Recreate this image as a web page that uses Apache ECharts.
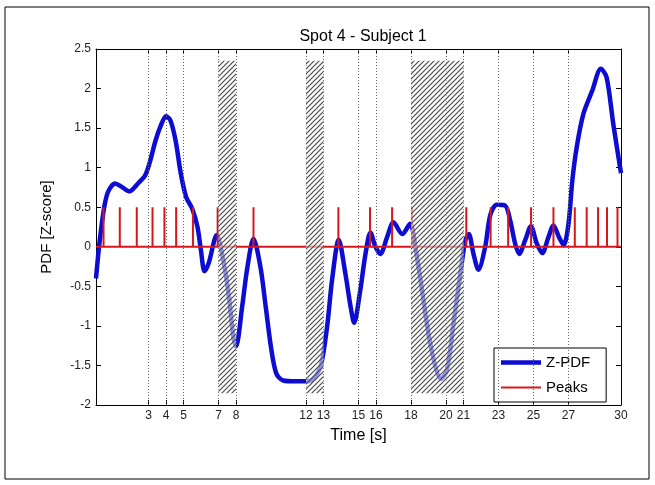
<!DOCTYPE html>
<head>
    <meta charset="utf-8">
    <title>ECharts</title>
    <script type="text/javascript" src="https://cdn.jsdelivr.net/npm/echarts@6/dist/echarts.min.js"></script>
</head>

<body style="margin:0">
<div id="main" style="width:655px;height:485px"></div>

<script type="text/javascript">
// Z-PDF curve (time in s, value in z-score)
var tSec = [0, 0.2, 0.47, 0.7, 1.1, 1.45, 1.9, 2.4, 2.8, 3.05, 3.4, 3.7, 4.0, 4.25, 4.55, 4.85, 5.15, 5.5, 5.8, 6.0,
    6.2, 6.45, 6.9, 7.3, 7.6, 7.85, 8.0, 8.35, 8.65, 9.0, 9.4, 9.7, 10.0, 10.3, 10.7, 11.4, 12.1, 12.45, 12.85, 13.2,
    13.5, 13.87, 14.25, 14.55, 14.75, 15.1, 15.4, 15.68, 15.97, 16.25, 16.63, 17.0, 17.5, 17.95, 18.25, 18.63, 19.0, 19.4, 19.7, 20.05,
    20.43, 20.82, 21.1, 21.3, 21.57, 21.85, 22.24, 22.53, 22.9, 23.38, 23.67, 23.95, 24.18, 24.52, 24.85, 25.19, 25.5, 25.85, 26.14, 26.46,
    26.72, 27.0, 27.22, 27.47, 27.85, 28.35, 28.85, 29.18, 29.56, 30];
var zpdf = [-0.40, 0.05, 0.50, 0.70, 0.80, 0.76, 0.70, 0.80, 0.90, 1.05, 1.34, 1.53, 1.65, 1.60, 1.34, 0.92, 0.63, 0.48, 0.25, -0.05,
    -0.31, -0.20, 0.15, -0.20, -0.64, -1.15, -1.26, -0.76, -0.26, 0.10, -0.26, -0.76, -1.27, -1.60, -1.69, -1.70, -1.70, -1.66, -1.50, -1.02,
    -0.40, 0.09, -0.34, -0.76, -0.96, -0.55, -0.09, 0.18, 0.00, -0.09, 0.12, 0.31, 0.16, 0.29, 0.00, -0.55, -1.10, -1.52, -1.67, -1.56,
    -0.97, -0.34, 0.08, 0.16, -0.09, -0.29, 0.00, 0.40, 0.53, 0.52, 0.33, 0.04, -0.09, 0.08, 0.26, 0.04, -0.08, 0.12, 0.27, 0.12,
    0.02, 0.29, 0.84, 1.26, 1.68, 1.97, 2.25, 2.14, 1.55, 0.93];

// peak times (stems of height 0.5)
var peaks = [0.43, 1.36, 2.33, 3.23, 3.91, 4.58, 5.54, 6.95, 9.0, 13.85, 15.66, 16.92, 18.06, 21.16,
    22.55, 23.55, 24.86, 26.14, 27.36, 28.04, 28.69, 29.2, 29.8];
var peakHeight = 0.5;

// x tick labels / dotted lines
var xTicks = [3, 4, 5, 7, 8, 12, 13, 15, 16, 18, 20, 21, 23, 25, 27, 30];

// hatched intervals [start, end] and their vertical extent
var hatchSpans = [[7, 8], [12, 13], [18, 21]];
var hatchLow = -1.85, hatchHigh = 2.35;

var font = 'Liberation Sans, Arial, sans-serif';
var blue = '#0c0cd2', red = '#d6181d';

// hatch pattern
var pat = document.createElement('canvas');
pat.width = 5; pat.height = 5;
var ctx = pat.getContext('2d');
ctx.fillStyle = 'rgba(255,255,255,0.55)';
ctx.fillRect(0, 0, 5, 5);
ctx.strokeStyle = '#4a4a4a';
ctx.lineWidth = 1.2;
ctx.beginPath();
ctx.moveTo(0, 5); ctx.lineTo(5, 0);
ctx.moveTo(-1, 1); ctx.lineTo(1, -1);
ctx.moveTo(4, 6); ctx.lineTo(6, 4);
ctx.stroke();

var curveData = tSec.map(function (t, i) { return [t, zpdf[i]]; });

var peakData = [[0, 0]];
peaks.forEach(function (p) {
    peakData.push([p, 0], [p, peakHeight], [p, 0]);
});
peakData.push([30, 0]);

var dotLines = xTicks.filter(function (v) { return v < 30; }).map(function (v) { return {xAxis: v}; });
var areas = hatchSpans.map(function (s) {
    return [{coord: [s[0], hatchLow]}, {coord: [s[1], hatchHigh]}];
});

var axisLine = {show: true, onZero: false, lineStyle: {color: '#000', width: 1}};
var tick = {show: true, inside: true, length: 5, lineStyle: {color: '#000'}};
var label = {color: '#222', fontSize: 12, fontFamily: font};

var myChart = echarts.init(document.getElementById('main'));
var option = {
    animation: false,
    backgroundColor: '#fff',
    title: {
        text: 'Spot 4 - Subject 1',
        left: 358,
        textAlign: 'center',
        top: 24,
        textStyle: {fontSize: 16, fontWeight: 'normal', color: '#000', fontFamily: font}
    },
    graphic: [{
        type: 'rect',
        shape: {x: 5, y: 7, width: 644, height: 472},
        style: {fill: 'none', stroke: '#000', lineWidth: 1},
        silent: true
    }],
    grid: {left: 96, right: 34, top: 49, bottom: 80},
    legend: {
        data: [
            {name: 'Z-PDF', icon: 'path://M0,0H40V4.5H0Z'},
            {name: 'Peaks', icon: 'path://M0,0H40V2H0Z'}
        ],
        orient: 'vertical',
        left: 494,
        top: 348,
        padding: [7, 16, 7, 7],
        itemGap: 10,
        itemWidth: 40,
        itemHeight: 14,
        borderColor: '#000',
        borderWidth: 1,
        backgroundColor: '#fff',
        textStyle: {fontSize: 15, color: '#000', fontFamily: font}
    },
    xAxis: [{
        type: 'value', min: 0, max: 30, interval: 1,
        name: 'Time [s]', nameLocation: 'middle', nameGap: 23,
        nameTextStyle: {fontSize: 16, color: '#000', fontFamily: font},
        axisLine: axisLine,
        axisTick: Object.assign({customValues: xTicks}, tick),
        axisLabel: Object.assign({customValues: xTicks, margin: 5}, label),
        splitLine: {show: false}
    }, {
        type: 'value', min: 0, max: 30, interval: 1, position: 'top',
        axisLine: axisLine,
        axisTick: Object.assign({customValues: xTicks}, tick),
        axisLabel: {show: false},
        splitLine: {show: false}
    }],
    yAxis: [{
        type: 'value', min: -2, max: 2.5, interval: 0.5,
        name: 'PDF [Z-score]', nameLocation: 'middle', nameGap: 42,
        nameTextStyle: {fontSize: 15, color: '#000', fontFamily: font},
        axisLine: axisLine,
        axisTick: tick,
        axisLabel: Object.assign({margin: 5}, label),
        splitLine: {show: false}
    }, {
        type: 'value', min: -2, max: 2.5, interval: 0.5, position: 'right',
        axisLine: axisLine,
        axisTick: tick,
        axisLabel: {show: false},
        splitLine: {show: false}
    }],
    series: [
        {
            name: 'grid',
            type: 'line',
            data: [],
            z: 1,
            markLine: {
                silent: true,
                symbol: 'none',
                label: {show: false},
                lineStyle: {color: '#666', width: 1, type: [1, 2]},
                data: dotLines
            }
        },
        {
            name: 'Z-PDF',
            type: 'line',
            data: curveData,
            smooth: 0.3,
            showSymbol: false,
            symbol: 'none',
            z: 3,
            lineStyle: {color: blue, width: 4.5},
            itemStyle: {color: blue}
        },
        {
            name: 'Peaks',
            type: 'line',
            data: peakData,
            showSymbol: false,
            symbol: 'none',
            z: 4,
            lineStyle: {color: red, width: 2},
            itemStyle: {color: red}
        },
        {
            name: 'hatch',
            type: 'line',
            data: [],
            z: 6,
            markArea: {
                silent: true,
                z: 6,
                itemStyle: {color: {image: pat, repeat: 'repeat'}, borderWidth: 0},
                data: areas
            }
        }
    ]
};
myChart.setOption(option);
</script>
</body>
